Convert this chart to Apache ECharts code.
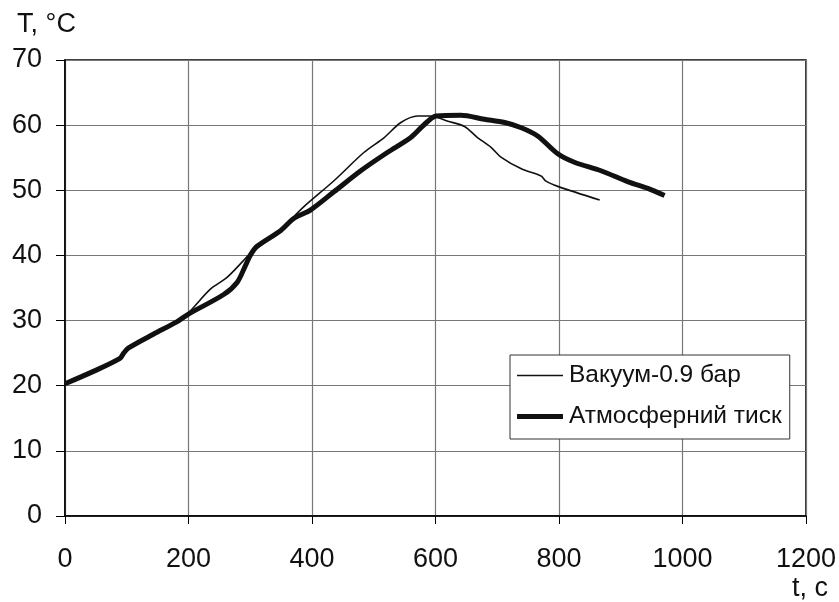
<!DOCTYPE html>
<html>
<head>
<meta charset="utf-8">
<script src="https://cdn.jsdelivr.net/npm/echarts@6/dist/echarts.min.js"></script>
<style>
html,body{margin:0;padding:0;background:#fff;}
#chart{width:839px;height:602px;}
</style>
</head>
<body>
<div id="chart"></div>
<script>
// Data
const seriesNames = ['Вакуум-0.9 бар', 'Атмосферний тиск'];
const xTicks = [0, 200, 400, 600, 800, 1000, 1200];
const yTicks = [0, 10, 20, 30, 40, 50, 60, 70];

const vacuumT = [0, 46, 89, 95, 103, 143, 181, 200, 235, 262, 289, 300, 349, 371, 387, 436, 484, 517, 544, 571, 592, 620, 647, 668, 690, 706, 739, 771, 779, 798, 866];
const vacuumTemp = [20.3, 22.2, 24.2, 25.0, 25.8, 27.9, 29.8, 31.2, 34.8, 36.6, 39.2, 40.3, 43.8, 46.0, 47.5, 51.5, 55.8, 58.1, 60.4, 61.4, 61.4, 60.6, 59.8, 58.1, 56.6, 55.1, 53.3, 52.2, 51.4, 50.6, 48.5];

const atmT = [0, 46, 89, 95, 103, 143, 181, 200, 257, 279, 292, 300, 311, 349, 371, 398, 436, 479, 522, 560, 582, 601, 641, 679, 712, 739, 766, 798, 825, 868, 912, 944, 971];
const atmTemp = [20.3, 22.2, 24.2, 25.0, 25.8, 27.9, 29.8, 31.0, 34.0, 35.9, 38.4, 40.0, 41.4, 43.8, 45.7, 47.0, 49.8, 53.0, 55.8, 58.1, 60.1, 61.4, 61.5, 60.9, 60.4, 59.6, 58.3, 55.6, 54.3, 53.0, 51.3, 50.3, 49.2];

function pairs(xs, ys) { return xs.map((x, i) => [x, ys[i]]); }

const FONT = '"Liberation Sans", Arial, sans-serif';
const chart = echarts.init(document.getElementById('chart'), null, { renderer: 'canvas' });

chart.setOption({
  animation: false,
  backgroundColor: '#fff',
  textStyle: { fontFamily: FONT, color: '#000' },
  grid: { left: 65, right: 32, top: 60, bottom: 80, show: true, borderColor: '#000', borderWidth: 1.5, containLabel: false },
  legend: {
    orient: 'vertical',
    left: 510, top: 355,
    padding: [8, 8, 10, 7],
    itemGap: 16,
    itemWidth: 46, itemHeight: 24,
    symbolKeepAspect: true,
    backgroundColor: '#fff',
    borderColor: '#333', borderWidth: 1,
    textStyle: { fontFamily: FONT, fontSize: 24.5, color: '#111', lineHeight: 24, padding: [0, 0, 0, 1] },
    data: [
      { name: seriesNames[0], icon: 'path://M0,0H46V1.6H0Z', itemStyle: { color: '#111' } },
      { name: seriesNames[1], icon: 'path://M0,0H46V5H0Z', itemStyle: { color: '#111' } }
    ]
  },
  xAxis: {
    type: 'value', min: 0, max: 1200, interval: 200,
    name: 't, c', nameLocation: 'end', nameGap: 22,
    nameTextStyle: { fontFamily: FONT, fontSize: 27, color: '#111', align: 'right', verticalAlign: 'top', padding: [59, 0, 0, 0] },
    axisLine: { show: true, onZero: false, lineStyle: { color: '#000', width: 1.5 } },
    axisTick: { show: true, inside: false, length: 8, lineStyle: { color: '#000' } },
    axisLabel: { fontFamily: FONT, fontSize: 27, color: '#111', margin: 30, formatter: v => xTicks.includes(v) ? String(v) : '' },
    splitLine: { show: true, lineStyle: { color: '#777', width: 1.2 } }
  },
  yAxis: {
    type: 'value', min: 0, max: 70, interval: 10,
    name: 'T, °C', nameLocation: 'end', nameGap: 22,
    nameTextStyle: { fontFamily: FONT, fontSize: 27, color: '#111', align: 'center', padding: [0, 37, 0, 0] },
    axisLine: { show: true, lineStyle: { color: '#000', width: 1.5 } },
    axisTick: { show: true, inside: false, length: 9, lineStyle: { color: '#000' } },
    axisLabel: { fontFamily: FONT, fontSize: 27, color: '#111', margin: 23, formatter: v => yTicks.includes(v) ? String(v) : '' },
    splitLine: { show: true, lineStyle: { color: '#777', width: 1.2 } }
  },
  series: [
    {
      name: seriesNames[0], type: 'line', data: pairs(vacuumT, vacuumTemp),
      showSymbol: false, symbol: 'none', smooth: 0.3,
      lineStyle: { color: '#111', width: 1.6 }, itemStyle: { color: '#111' }, z: 3
    },
    {
      name: seriesNames[1], type: 'line', data: pairs(atmT, atmTemp),
      showSymbol: false, symbol: 'none', smooth: 0.3,
      lineStyle: { color: '#111', width: 5 }, itemStyle: { color: '#111' }, z: 2
    }
  ]
});
</script>
</body>
</html>
